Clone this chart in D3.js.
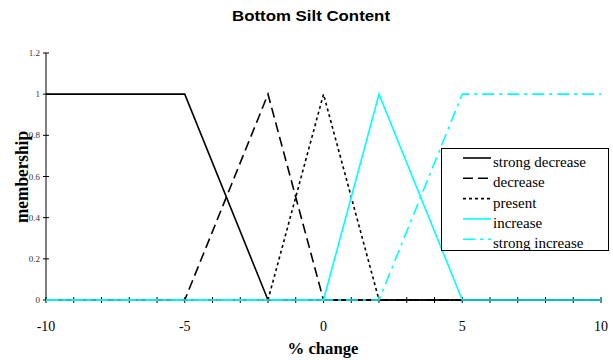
<!DOCTYPE html>
<html><head><meta charset="utf-8">
<script src="https://cdn.jsdelivr.net/npm/d3@7"></script>
<style>body{margin:0;background:#fff}</style>
</head><body>
<script>
const seriesNames = ["strong decrease","decrease","present","increase","strong increase"];
const strongDecrease = [[-10,1],[-5,1],[-2,0],[10,0]];
const decrease = [[-10,0],[-5,0],[-2,1],[0,0],[10,0]];
const present = [[-10,0],[-2,0],[0,1],[2,0],[10,0]];
const increase = [[-10,0],[0,0],[2,1],[5,0],[10,0]];
const strongIncrease = [[-10,0],[2,0],[5,1],[10,1]];
const xTickLabels = [-10,-5,0,5,10];
const yTickLabels = [0,0.2,0.4,0.6,0.8,1,1.2];

const series = [strongDecrease, decrease, present, increase, strongIncrease];
const colors = ["#000","#000","#000","#00ffff","#00ffff"];
const dashes = [null,"10,5","3,3",null,"12,5,3,5"];

const W=613,H=360;
const svg=d3.select("body").append("svg").attr("width",W).attr("height",H);
const x=d3.scaleLinear().domain([-10,10]).range([46,601]);
const y=d3.scaleLinear().domain([0,1.2]).range([300,53]);

svg.append("text").attr("x",311).attr("y",21).attr("text-anchor","middle")
  .attr("font-family","Liberation Sans, Arial").attr("font-weight","bold").attr("font-size",15.5)
  .attr("textLength",158).attr("lengthAdjust","spacingAndGlyphs").text("Bottom Silt Content");

// axes
const xAx=svg.append("g").attr("transform","translate(0,300)");
xAx.append("line").attr("x1",x(-10)).attr("x2",x(10)).attr("stroke","#000");
xAx.selectAll("line.t").data(d3.range(-10,11)).enter().append("line")
  .attr("x1",d=>x(d)).attr("x2",d=>x(d)).attr("y1",-3).attr("y2",3).attr("stroke","#000");
xAx.selectAll("text").data(xTickLabels).enter().append("text")
  .attr("x",d=>x(d)).attr("y",31).attr("text-anchor","middle")
  .attr("font-family","Liberation Serif, Times New Roman").attr("font-size",14).text(d=>d);

const yAx=svg.append("g").attr("transform","translate(46,0)");
yAx.append("line").attr("y1",y(0)).attr("y2",y(1.2)).attr("stroke","#000");
yAx.selectAll("line.t").data(yTickLabels).enter().append("line")
  .attr("y1",d=>y(d)).attr("y2",d=>y(d)).attr("x1",-3).attr("x2",3).attr("stroke","#000");
yAx.selectAll("text").data(yTickLabels).enter().append("text")
  .attr("x",-6).attr("y",d=>y(d)+3).attr("text-anchor","end").attr("fill","#333")
  .attr("font-family","Liberation Serif, Times New Roman").attr("font-size",9).text(d=>d);

svg.append("text").attr("x",323).attr("y",354).attr("text-anchor","middle")
  .attr("font-family","Liberation Serif, Times New Roman").attr("font-weight","bold").attr("font-size",17)
  .attr("textLength",71).attr("lengthAdjust","spacingAndGlyphs").text("% change");
svg.append("text").attr("transform","translate(28,177) rotate(-90)").attr("text-anchor","middle")
  .attr("font-family","Liberation Serif, Times New Roman").attr("font-weight","bold").attr("font-size",19)
  .attr("textLength",92).attr("lengthAdjust","spacingAndGlyphs").text("membership");

const line=d3.line().x(d=>x(d[0])).y(d=>y(d[1]));
series.forEach((s,i)=>{
  svg.append("path").attr("d",line(s)).attr("fill","none").attr("stroke",colors[i])
    .attr("stroke-width",1.6).attr("stroke-dasharray",dashes[i]);
});

// legend
const lg=svg.append("g");
lg.append("rect").attr("x",441.5).attr("y",148.5).attr("width",167).attr("height",102)
  .attr("fill","#fff").attr("stroke","#000");
seriesNames.forEach((n,i)=>{
  const yy=158+i*20.3;
  lg.append("line").attr("x1",463).attr("x2",491).attr("y1",yy).attr("y2",yy)
    .attr("stroke",colors[i]).attr("stroke-width",1.6).attr("stroke-dasharray",dashes[i]);
  lg.append("text").attr("x",493).attr("y",yy+9).attr("font-family","Liberation Serif, Times New Roman")
    .attr("font-size",15).text(n);
});
</script>
</body></html>
